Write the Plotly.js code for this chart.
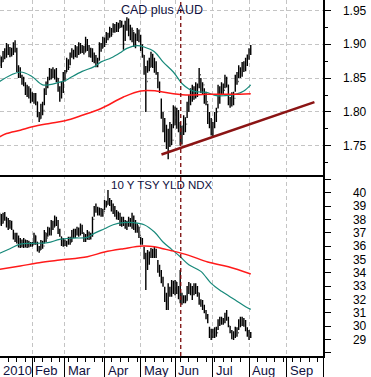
<!DOCTYPE html>
<html>
<head>
<meta charset="utf-8">
<script src="https://cdn.plot.ly/plotly-3.0.1.min.js"></script>
<style>html,body{margin:0;padding:0;background:#fff;}#chart{width:371px;height:377px;}</style>
</head>
<body>
<div id="chart"></div>
<script>
// Trading-day index 0 = 4 Jan 2010
const monthLabels = ["2010","Feb","Mar","Apr","May","Jun","Jul","Aug","Sep"];
const monthStart  = [0, 19, 38, 61, 82, 102, 124, 145, 167, 188];
const markerDay = 105.3;
const tnxTickVals = [28,29,30,31,32,33,34,35,36,37,38,39,40,41];
const tnxTickText = ["","29","30","31","32","33","34","35","36","37","38","39","40",""];

// CAD plus AUD daily bars
const cadOpen  = [1.870,1.878,1.874,1.885,1.882,1.896,1.888,1.890,1.886,1.900,1.892,1.862,1.855,1.852,1.845,1.840,1.828,1.835,1.824,1.818,1.825,1.816,1.815,1.798,1.790,1.806,1.802,1.830,1.840,1.848,1.860,1.852,1.862,1.855,1.850,1.835,1.822,1.840,1.852,1.858,1.875,1.866,1.884,1.888,1.882,1.894,1.886,1.898,1.890,1.895,1.888,1.905,1.894,1.885,1.890,1.878,1.882,1.870,1.876,1.898,1.894,1.906,1.900,1.914,1.910,1.922,1.915,1.928,1.920,1.930,1.924,1.932,1.928,1.900,1.930,1.934,1.918,1.912,1.920,1.900,1.910,1.918,1.908,1.895,1.884,1.860,1.845,1.870,1.866,1.882,1.872,1.862,1.858,1.840,1.818,1.798,1.778,1.762,1.770,1.742,1.778,1.758,1.800,1.788,1.800,1.778,1.756,1.772,1.790,1.782,1.810,1.818,1.830,1.822,1.834,1.828,1.838,1.855,1.835,1.840,1.818,1.815,1.788,1.782,1.770,1.778,1.795,1.800,1.832,1.826,1.840,1.832,1.850,1.840,1.815,1.812,1.824,1.820,1.850,1.845,1.862,1.855,1.870,1.862,1.876,1.880,1.886];
const cadHigh  = [1.884,1.882,1.890,1.894,1.902,1.900,1.896,1.895,1.903,1.906,1.895,1.869,1.866,1.855,1.852,1.844,1.840,1.838,1.835,1.829,1.828,1.828,1.815,1.800,1.812,1.815,1.835,1.845,1.852,1.865,1.864,1.866,1.863,1.865,1.850,1.838,1.845,1.859,1.862,1.880,1.878,1.888,1.894,1.892,1.899,1.897,1.903,1.902,1.899,1.898,1.911,1.908,1.899,1.895,1.894,1.888,1.884,1.880,1.903,1.902,1.911,1.910,1.918,1.917,1.926,1.924,1.931,1.930,1.933,1.932,1.936,1.935,1.929,1.935,1.940,1.938,1.929,1.925,1.918,1.916,1.924,1.922,1.914,1.900,1.884,1.868,1.876,1.880,1.889,1.886,1.880,1.875,1.859,1.845,1.820,1.800,1.791,1.781,1.775,1.785,1.782,1.810,1.808,1.806,1.803,1.785,1.780,1.795,1.792,1.815,1.825,1.835,1.840,1.838,1.844,1.842,1.865,1.850,1.844,1.835,1.830,1.812,1.800,1.791,1.785,1.800,1.806,1.840,1.838,1.844,1.842,1.855,1.852,1.840,1.822,1.829,1.830,1.855,1.859,1.869,1.866,1.874,1.875,1.880,1.885,1.894,1.899];
const cadLow   = [1.868,1.865,1.874,1.878,1.880,1.884,1.881,1.882,1.884,1.888,1.859,1.850,1.850,1.840,1.838,1.825,1.822,1.820,1.813,1.815,1.812,1.810,1.792,1.785,1.790,1.795,1.810,1.825,1.835,1.847,1.848,1.850,1.848,1.844,1.830,1.815,1.820,1.828,1.845,1.859,1.862,1.869,1.880,1.878,1.881,1.880,1.884,1.886,1.887,1.885,1.889,1.890,1.881,1.880,1.874,1.872,1.866,1.866,1.876,1.889,1.894,1.896,1.902,1.906,1.910,1.911,1.917,1.917,1.918,1.918,1.924,1.925,1.892,1.905,1.920,1.912,1.906,1.903,1.896,1.894,1.905,1.903,1.890,1.880,1.855,1.800,1.858,1.860,1.866,1.865,1.858,1.855,1.835,1.828,1.790,1.770,1.755,1.745,1.730,1.748,1.751,1.776,1.780,1.775,1.770,1.750,1.752,1.766,1.770,1.791,1.800,1.810,1.815,1.818,1.820,1.822,1.835,1.828,1.825,1.812,1.810,1.782,1.776,1.765,1.763,1.776,1.785,1.805,1.812,1.825,1.826,1.835,1.836,1.810,1.806,1.808,1.810,1.830,1.840,1.850,1.850,1.852,1.859,1.860,1.868,1.877,1.884];
const cadClose = [1.880,1.872,1.886,1.880,1.898,1.888,1.892,1.884,1.900,1.893,1.862,1.855,1.860,1.845,1.842,1.828,1.835,1.824,1.818,1.825,1.816,1.822,1.798,1.790,1.806,1.800,1.830,1.840,1.848,1.860,1.852,1.862,1.855,1.850,1.835,1.822,1.840,1.852,1.858,1.875,1.866,1.884,1.888,1.882,1.894,1.886,1.898,1.890,1.895,1.888,1.905,1.894,1.885,1.890,1.878,1.882,1.870,1.876,1.898,1.894,1.906,1.900,1.914,1.910,1.922,1.915,1.928,1.920,1.930,1.924,1.932,1.928,1.900,1.930,1.934,1.918,1.912,1.920,1.900,1.910,1.918,1.908,1.895,1.884,1.860,1.845,1.870,1.866,1.882,1.872,1.862,1.860,1.840,1.832,1.798,1.778,1.762,1.770,1.742,1.778,1.758,1.800,1.788,1.800,1.778,1.756,1.772,1.790,1.782,1.810,1.818,1.830,1.822,1.834,1.828,1.838,1.855,1.835,1.840,1.818,1.815,1.788,1.782,1.770,1.778,1.795,1.800,1.832,1.826,1.840,1.832,1.850,1.840,1.815,1.812,1.824,1.820,1.850,1.845,1.862,1.855,1.870,1.862,1.876,1.880,1.890,1.896];
const cadMaShortX = [0,12,19,25,35,38,42,48,55,59,65,71,74,80,84,90,95,101,106,110,114,120,126,131,137,142,146];
const cadMaShort  = [1.845,1.859,1.852,1.840,1.844,1.846,1.852,1.860,1.867,1.874,1.880,1.889,1.894,1.898,1.896,1.889,1.874,1.859,1.842,1.834,1.830,1.829,1.824,1.824,1.826,1.831,1.840];
const cadMaLongX = [0,4,12,19,29,38,48,59,72,82,91,101,110,120,135,146];
const cadMaLong  = [1.763,1.768,1.773,1.778,1.783,1.787,1.795,1.805,1.822,1.831,1.831,1.827,1.825,1.826,1.826,1.827];
const trendX = [94.1, 183.0];
const trendY = [1.737, 1.8145];

// 10 Y TSY YLD NDX daily bars
const tnxOpen  = [37.8,38.3,37.7,38.4,38.0,37.6,37.9,37.5,37.2,36.7,36.8,36.4,36.1,36.4,36.0,36.3,36.1,36.3,36.0,36.2,36.1,36.8,36.3,35.8,35.7,36.2,36.0,37.0,36.6,37.3,37.0,37.8,37.4,38.1,37.8,37.1,36.7,36.2,36.4,36.1,36.3,36.5,36.3,37.0,36.9,37.1,37.3,36.9,37.5,37.0,36.6,36.5,37.0,36.7,36.9,38.0,38.8,38.9,38.5,38.7,38.4,38.6,39.3,39.1,39.4,39.2,38.8,38.6,38.4,38.2,38.4,37.7,38.0,37.7,37.5,37.6,38.0,37.7,38.2,37.5,37.2,37.5,36.8,36.3,35.9,35.3,34.6,35.2,35.4,35.5,35.3,35.7,34.9,34.2,34.0,33.5,32.9,32.0,31.5,32.8,32.5,33.2,32.7,33.3,32.6,32.2,32.4,31.9,32.1,31.9,32.8,33.1,32.5,32.8,33.0,32.6,32.5,31.8,31.6,31.4,31.1,30.7,29.9,29.4,29.6,29.3,29.7,29.5,30.3,30.5,30.3,30.5,30.8,30.6,30.0,29.6,29.3,29.2,29.7,29.5,30.2,30.5,30.3,30.2,29.8,29.4,29.5];
const tnxHigh  = [38.5,38.4,38.5,38.55,38.2,38.1,37.95,37.9,37.2,37.0,37.0,36.8,36.6,36.5,36.6,36.5,36.45,36.4,36.3,36.3,37.0,36.8,36.3,36.0,36.45,36.4,37.2,37.0,37.45,37.4,37.95,37.9,38.3,38.2,37.95,37.3,36.7,36.6,36.5,36.4,36.7,36.7,37.2,37.3,37.3,37.45,37.4,37.7,37.6,37.0,36.9,37.2,37.1,37.0,38.2,39.0,39.2,38.95,38.9,38.85,38.8,39.45,39.4,40.2,39.6,39.45,39.2,39.0,38.7,38.6,38.5,38.2,38.2,37.95,37.9,38.2,38.1,38.5,38.3,37.95,37.7,37.45,36.7,36.6,35.95,35.5,35.7,35.6,35.85,35.8,35.95,35.8,34.95,34.6,34.2,33.7,32.95,32.5,33.2,32.95,33.45,33.4,33.45,33.3,33.0,34.2,32.5,32.3,32.3,33.0,33.3,33.2,33.0,33.2,33.2,33.0,32.5,32.0,31.95,31.6,31.2,30.9,29.95,29.8,29.8,29.9,29.95,30.5,30.7,30.7,30.6,31.0,31.2,30.7,30.0,29.7,29.6,29.95,29.9,30.5,30.7,30.7,30.6,30.45,29.9,29.7,29.55];
const tnxLow   = [37.6,37.5,37.7,37.9,37.4,37.2,37.3,37.2,36.5,36.3,36.2,35.9,35.85,35.9,35.85,35.9,35.85,35.9,35.95,35.95,36.1,36.1,35.6,35.5,35.7,35.8,36.2,36.3,36.7,36.8,36.8,37.2,37.45,37.5,36.9,36.7,36.0,35.95,36.0,35.95,36.1,36.1,36.3,36.6,36.6,36.8,36.7,36.8,36.9,36.3,36.3,36.5,36.45,36.5,36.7,38.2,38.5,38.3,38.3,38.2,38.2,38.7,38.9,39.1,39.0,38.6,38.4,38.2,38.0,37.95,37.5,37.45,37.5,37.3,37.2,37.45,37.45,37.3,37.2,37.0,37.0,36.6,36.1,36.1,35.0,32.7,34.2,34.6,35.1,35.1,35.1,35.1,34.0,33.7,33.2,32.95,31.8,31.2,31.2,32.2,32.2,32.4,32.3,32.4,32.0,31.7,31.6,31.7,31.7,31.9,32.4,32.3,31.95,32.3,32.4,32.2,31.6,31.45,31.2,30.95,30.5,30.2,29.1,28.95,29.1,29.1,29.2,29.7,30.0,30.1,30.1,30.2,30.4,29.9,29.45,29.0,28.95,29.1,29.2,29.7,29.9,30.0,29.95,29.6,29.2,28.95,29.1];
const tnxClose = [38.3,37.7,38.4,38.0,37.6,37.9,37.5,37.8,36.7,36.8,36.4,36.1,36.4,36.0,36.3,36.1,36.3,36.0,36.2,36.1,36.8,36.3,35.8,35.7,36.2,36.0,37.0,36.6,37.3,37.0,37.8,37.4,38.1,37.8,37.1,36.9,36.2,36.4,36.1,36.3,36.5,36.3,37.0,36.9,37.1,37.3,36.9,37.5,37.0,36.6,36.5,37.0,36.7,36.9,38.0,38.8,38.9,38.5,38.7,38.4,38.6,39.3,39.1,39.9,39.2,38.8,38.6,38.4,38.2,38.4,37.7,38.0,37.7,37.5,37.6,38.0,37.7,38.2,37.5,37.2,37.5,36.8,36.3,36.2,35.3,34.6,35.2,35.4,35.5,35.3,35.7,35.2,34.2,34.0,33.5,33.2,32.0,31.5,32.8,32.5,33.2,32.7,33.3,32.6,32.2,32.4,31.9,32.1,31.9,32.8,33.1,32.5,32.8,33.0,32.6,32.8,31.8,31.6,31.4,31.1,30.7,30.4,29.4,29.6,29.3,29.7,29.5,30.3,30.5,30.3,30.5,30.8,30.6,30.0,29.6,29.3,29.2,29.7,29.5,30.2,30.5,30.3,30.2,29.8,29.4,29.5,29.3];
const tnxMaShortX = [0,6,12,19,28,35,43,51,55,61,66,72,78,84,90,95,100,105,110,117,123,129,137,143,146];
const tnxMaShort  = [35.45,35.8,36.15,36.2,36.25,36.5,36.6,36.65,36.95,37.3,37.6,37.75,37.75,37.6,37.05,36.3,35.75,35.2,34.6,34.1,33.2,32.6,31.95,31.45,31.25];
const tnxMaLongX = [0,12,23,35,51,61,72,83,90,95,100,110,121,133,146];
const tnxMaLong  = [34.25,34.5,34.75,34.95,35.2,35.55,35.8,36.0,35.95,35.8,35.65,35.3,34.8,34.45,33.9];

const dayIdx = cadClose.map((_, i) => i);

const grid = '#c4c4c4';
const gdash = '4px,3px';
const teal = '#17897a';
const red = '#ff1a1a';
const maroon = '#8b1414';
const fnt = 'Liberation Sans, Arial, sans-serif';

const barStyle = {line: {color: '#000', width: 1.4}};
const traces = [
  {type: 'ohlc', x: dayIdx, open: cadOpen, high: cadHigh, low: cadLow, close: cadClose,
   increasing: barStyle, decreasing: barStyle, tickwidth: 0.35, xaxis: 'x2', yaxis: 'y2', hoverinfo: 'skip', showlegend: false},
  {type: 'scatter', mode: 'lines', x: cadMaShortX, y: cadMaShort, line: {color: teal, width: 1.2, shape: 'spline'}, xaxis: 'x2', yaxis: 'y2', showlegend: false, hoverinfo: 'skip'},
  {type: 'scatter', mode: 'lines', x: cadMaLongX, y: cadMaLong, line: {color: red, width: 1.5, shape: 'spline'}, xaxis: 'x2', yaxis: 'y2', showlegend: false, hoverinfo: 'skip'},
  {type: 'scatter', mode: 'lines', x: trendX, y: trendY, line: {color: maroon, width: 2.6}, xaxis: 'x2', yaxis: 'y2', showlegend: false, hoverinfo: 'skip'},
  {type: 'ohlc', x: dayIdx, open: tnxOpen, high: tnxHigh, low: tnxLow, close: tnxClose,
   increasing: barStyle, decreasing: barStyle, tickwidth: 0.35, xaxis: 'x', yaxis: 'y', hoverinfo: 'skip', showlegend: false},
  {type: 'scatter', mode: 'lines', x: tnxMaShortX, y: tnxMaShort, line: {color: teal, width: 1.2, shape: 'spline'}, xaxis: 'x', yaxis: 'y', showlegend: false, hoverinfo: 'skip'},
  {type: 'scatter', mode: 'lines', x: tnxMaLongX, y: tnxMaLong, line: {color: red, width: 1.5, shape: 'spline'}, xaxis: 'x', yaxis: 'y', showlegend: false, hoverinfo: 'skip'}
];

const split = 0.5084;
const xRange = [0.23, 188];
const layout = {
  width: 371, height: 377,
  margin: {l: 0, r: 48, t: 0, b: 21},
  paper_bgcolor: '#fff', plot_bgcolor: '#fff',
  font: {family: fnt, color: '#000', size: 12},
  showlegend: false,
  xaxis: {domain: [0, 1], anchor: 'y', range: xRange, rangeslider: {visible: false},
    tickmode: 'array', tickvals: monthStart, showticklabels: false,
    ticks: 'outside', ticklen: 21, tickcolor: '#000', tickwidth: 1,
    showgrid: true, gridcolor: grid, griddash: gdash, gridwidth: 1,
    showline: true, linecolor: '#000', linewidth: 1.5, zeroline: false,
    minor: {dtick: 5, tick0: 0, ticks: 'outside', ticklen: 4, tickcolor: '#000', showgrid: false}},
  xaxis2: {domain: [0, 1], anchor: 'y2', matches: 'x', range: xRange, rangeslider: {visible: false},
    tickmode: 'array', tickvals: monthStart, showticklabels: false, ticks: '',
    showgrid: true, gridcolor: grid, griddash: gdash, gridwidth: 1,
    showline: true, linecolor: '#000', linewidth: 1.5, zeroline: false},
  yaxis: {domain: [0, split], anchor: 'x', side: 'right', range: [27.75, 41.33],
    tickmode: 'array', tickvals: tnxTickVals, ticktext: tnxTickText, showgrid: false,
    ticks: 'outside', ticklen: 6, tickcolor: '#000', ticklabelstandoff: 20,
    tickfont: {size: 12, family: fnt, color: '#000'},
    showline: true, linecolor: '#000', linewidth: 1.5, zeroline: false},
  yaxis3: {domain: [0, split], anchor: 'x', overlaying: 'y', side: 'right', range: [27.75, 41.33],
    tickmode: 'linear', tick0: 0, dtick: 2, showgrid: true, gridcolor: grid, griddash: gdash,
    showticklabels: false, ticks: '', showline: false, zeroline: false},
  yaxis2: {domain: [split, 1], anchor: 'x2', side: 'right', range: [1.7067, 1.9655],
    tickmode: 'linear', tick0: 1.75, dtick: 0.05, tickformat: '.2f',
    showgrid: true, gridcolor: grid, griddash: gdash,
    ticks: 'outside', ticklen: 6, tickcolor: '#000', ticklabelstandoff: 10,
    tickfont: {size: 12, family: fnt, color: '#000'},
    minor: {dtick: 0.025, tick0: 1.75, ticks: 'outside', ticklen: 3, tickcolor: '#000', showgrid: false},
    showline: true, linecolor: '#000', linewidth: 1.5, zeroline: false},
  shapes: [
    {type: 'line', xref: 'x', yref: 'paper', x0: markerDay, x1: markerDay, y0: 0, y1: 1,
     line: {color: '#7a0a0a', width: 1.3, dash: '4px,3px'}}
  ],
  annotations: [
    {text: 'CAD plus AUD', xref: 'paper', yref: 'paper', x: 0.5, y: 1, yshift: -10, yanchor: 'middle', xanchor: 'center',
     showarrow: false, font: {family: fnt, size: 12.5, color: '#101040'}},
    {text: '10 Y TSY YLD NDX', xref: 'paper', yref: 'paper', x: 0.5, y: split, yshift: -10, yanchor: 'middle', xanchor: 'center',
     showarrow: false, font: {family: fnt, size: 11.5, color: '#101040'}}
  ].concat(monthLabels.map((m, k) => ({
     text: m, xref: 'paper', yref: 'paper',
     x: (Math.max(monthStart[k], xRange[0]) - xRange[0]) / (xRange[1] - xRange[0]), y: 0, yshift: -14, xshift: 1,
     xanchor: 'left', yanchor: 'middle', showarrow: false,
     font: {family: fnt, size: 13, color: '#101040'}})))
};

Plotly.newPlot('chart', traces, layout, {staticPlot: true, displayModeBar: false});
</script>
</body>
</html>
